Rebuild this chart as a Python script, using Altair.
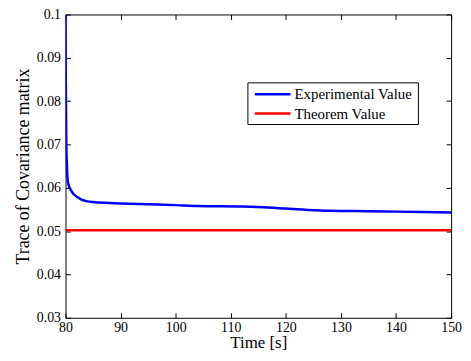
import altair as alt
import pandas as pd

# Experimental value (blue)
exp_t = [80.0, 80.05, 80.15, 80.25, 80.4, 80.6, 81.0, 81.5, 82.2, 83.0, 85.0, 88.0, 90.0,
         95.0, 100.0, 104.0, 112.0, 116.0, 120.0, 124.0, 128.0, 135.0, 140.0, 145.0, 150.0]
exp_v = [0.1, 0.085, 0.070, 0.0655, 0.0617, 0.0605, 0.0594, 0.0585, 0.0578, 0.0572, 0.0567,
         0.0565, 0.0564, 0.0562, 0.0560, 0.0558, 0.0557, 0.0555, 0.0552, 0.0549, 0.0547,
         0.0546, 0.0545, 0.0544, 0.0543]
# Theorem value (red)
thr_t = [80.0, 150.0]
thr_v = [0.0502, 0.0502]

series_names = ["Experimental Value", "Theorem Value"]
series_colors = ["#0000ff", "#ff0000"]
x_ticks = [80, 90, 100, 110, 120, 130, 140, 150]
y_ticks = [0.03, 0.04, 0.05, 0.06, 0.07, 0.08, 0.09, 0.1]

df = pd.DataFrame(
    {"t": exp_t + thr_t,
     "v": exp_v + thr_v,
     "series": [series_names[0]] * len(exp_t) + [series_names[1]] * len(thr_t)}
)

FONT = "Liberation Serif"
xs = alt.Scale(domain=[80, 150], nice=False, zero=False)
ys = alt.Scale(domain=[0.03, 0.1], nice=False, zero=False)
color_scale = alt.Scale(domain=series_names, range=series_colors)

common_axis = dict(offset=-5, tickSize=5, domain=False, grid=False, tickColor="black",
                   tickWidth=1, labelFont=FONT, labelFontSize=14, labelColor="black",
                   titleFont=FONT, titleFontWeight="normal", titleColor="black")

lines = alt.Chart(df).mark_line(strokeWidth=2.5, clip=True, interpolate="monotone").encode(
    x=alt.X("t:Q", scale=xs,
            axis=alt.Axis(values=x_ticks, title="Time [s]", labelPadding=3, titlePadding=0,
                          titleFontSize=17, labelFlush=False, **common_axis)),
    y=alt.Y("v:Q", scale=ys,
            axis=alt.Axis(values=y_ticks, title="Trace of Covariance matrix", format="~g",
                          labelPadding=5, titlePadding=4, titleFontSize=18, **common_axis)),
    color=alt.Color("series:N", scale=color_scale, legend=None),
)

frame = alt.Chart(df).mark_line(opacity=0).encode(
    x=alt.X("t:Q", scale=xs,
            axis=alt.Axis(orient="top", values=x_ticks, labels=False, title=None, **common_axis)),
    y=alt.Y("v:Q", scale=ys,
            axis=alt.Axis(orient="right", values=y_ticks, labels=False, title=None, **common_axis)),
    detail="series:N",
)

# Manual legend box (MATLAB style)
legend_box = alt.Chart(pd.DataFrame({"k": [0]})).mark_rect(
    fill="white", stroke="black", strokeWidth=1
).encode(x=alt.value(184), x2=alt.value(356), y=alt.value(69), y2=alt.value(111))

legend_layers = [legend_box]
for i, name in enumerate(series_names):
    row_y = 80.5 + i * 19.5
    entry = pd.DataFrame({"series": [name]})
    legend_layers.append(
        alt.Chart(entry).mark_rule(strokeWidth=2.5).encode(
            x=alt.value(191), x2=alt.value(227), y=alt.value(row_y),
            color=alt.Color("series:N", scale=color_scale, legend=None))
    )
    legend_layers.append(
        alt.Chart(entry).mark_text(align="left", baseline="middle", font=FONT,
                                   fontSize=15, color="black").encode(
            x=alt.value(231), y=alt.value(row_y), text="series:N")
    )

chart = alt.layer(lines, frame, *legend_layers).resolve_axis(
    x="independent", y="independent"
).properties(
    width=389, height=306,
    background="white",
    autosize=alt.AutoSizeParams(type="none"),
    padding={"left": 58, "top": 5, "right": 12, "bottom": 34},
).configure_view(stroke="black", strokeWidth=1).configure_axis(
    labelFont=FONT, titleFont=FONT
)

chart.save("out.html", embed_options={"renderer": "svg", "actions": False})
